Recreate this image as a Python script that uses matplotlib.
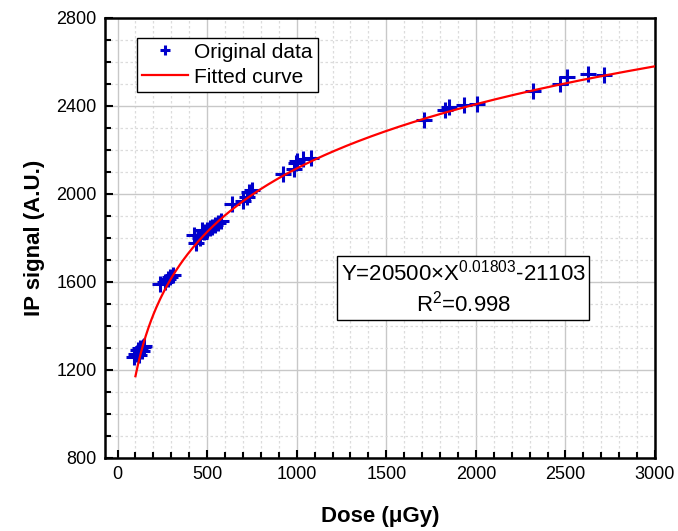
import numpy as np
import matplotlib
matplotlib.use("Agg")
import matplotlib.pyplot as plt
from matplotlib.ticker import MultipleLocator

dose = [90, 105, 115, 120, 125, 135, 140, 150,
        235, 265, 280, 295, 310,
        425, 440, 460, 470, 485, 500, 515, 530, 545, 560, 575,
        640, 700, 720, 735, 750,
        925, 985, 995, 1000, 1035, 1080,
        1710, 1830, 1850, 1935, 2005,
        2320, 2470, 2510, 2625, 2715]
signal = [1260, 1275, 1290, 1270, 1300, 1285, 1305, 1310,
          1590, 1600, 1612, 1625, 1632,
          1814, 1776, 1800, 1836, 1829, 1838, 1845, 1852, 1860, 1868, 1876,
          1955, 1966, 1988, 2010, 2018,
          2090, 2114, 2139, 2151, 2158, 2162,
          2336, 2382, 2396, 2404, 2408,
          2470, 2499, 2530, 2544, 2540]

# fit parameters shown in the figure
fit_a, fit_b, fit_c = 20500, 0.01803, -21103
fit_x = np.linspace(100, 3000, 400)
fit_y = fit_a * fit_x ** fit_b + fit_c

plt.rcParams['font.family'] = ['Liberation Sans', 'DejaVu Sans']
plt.rcParams['mathtext.default'] = 'regular'

fig = plt.figure(figsize=(6.78, 5.31), dpi=100)
ax = fig.add_axes([105/678, 1-458/531, 550/678, 440/531])

ax.plot(dose, signal, '+', color='#0000cc', ms=11, mew=2.2, label='Original data', zorder=3)
ax.plot(fit_x, fit_y, '-', color='red', lw=1.6, label='Fitted curve', zorder=4)

ax.set_xlim(-70, 3000)
ax.set_ylim(800, 2800)
ax.xaxis.set_major_locator(MultipleLocator(500))
ax.xaxis.set_minor_locator(MultipleLocator(100))
ax.yaxis.set_major_locator(MultipleLocator(400))
ax.yaxis.set_minor_locator(MultipleLocator(100))

ax.grid(which='major', color='#c8c8c8', lw=1.0, ls='-')
ax.grid(which='minor', color='#dcdcdc', lw=0.9, ls=(0, (2, 2)))
ax.set_axisbelow(True)

ax.tick_params(which='major', direction='in', length=6, width=1.5, labelsize=13, pad=6)
ax.tick_params(which='minor', direction='in', length=4, width=1.5)
for s in ax.spines.values():
    s.set_linewidth(1.8)

ax.set_xlabel('Dose (μGy)', fontsize=16, fontweight='bold', labelpad=16)
ax.set_ylabel('IP signal (A.U.)', fontsize=16, fontweight='bold', labelpad=8)

leg = ax.legend(loc='upper left', bbox_to_anchor=(0.05, 0.965), fontsize=15,
                fancybox=False, edgecolor='black', framealpha=1, markerscale=0.7,
                handlelength=2.2, borderpad=0.25, labelspacing=0.28,
                handletextpad=0.3, borderaxespad=0.2)
leg.get_frame().set_linewidth(1.0)

ax.text(1930, 1573, 'Y=20500×X$^{0.01803}$-21103\nR$^{2}$=0.998', fontsize=16,
        ha='center', va='center', multialignment='center', linespacing=1.25,
        bbox=dict(boxstyle='square,pad=0.15', fc='white', ec='black', lw=1.0), zorder=5)

fig.savefig('out.png', dpi=100)
